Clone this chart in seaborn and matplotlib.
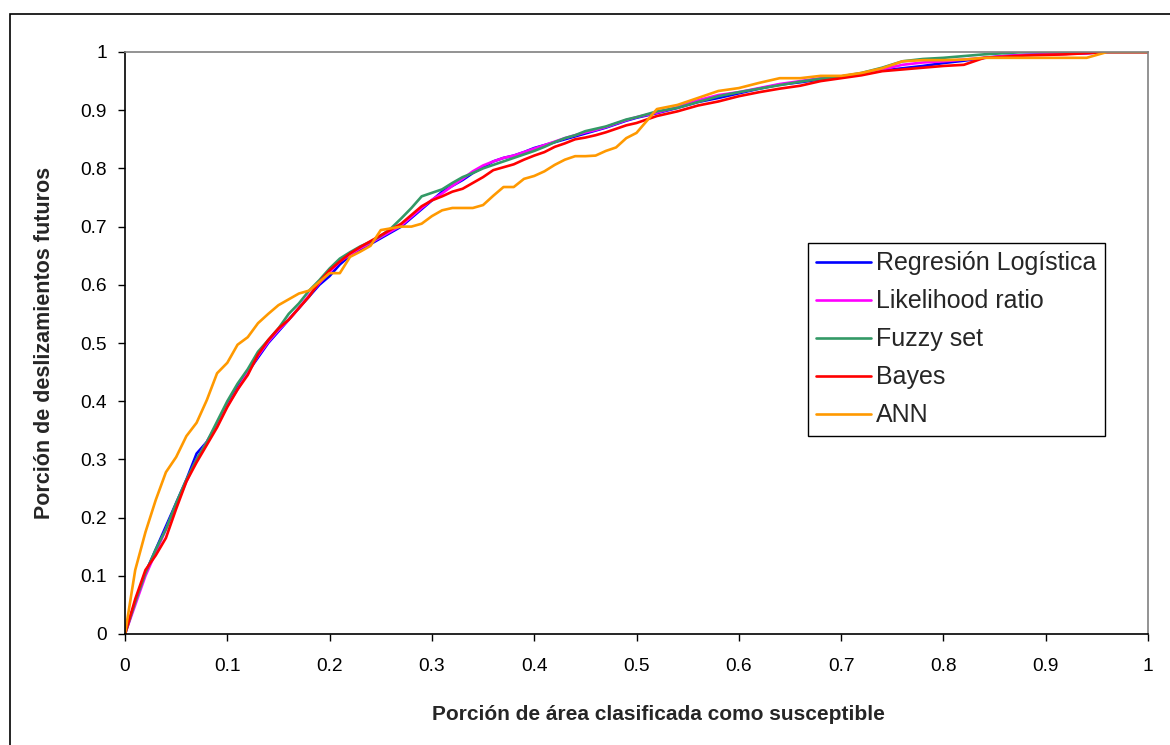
import numpy as np
import pandas as pd
import matplotlib
matplotlib.use("Agg")
import matplotlib.pyplot as plt
import seaborn as sns
from matplotlib.patches import Rectangle
from matplotlib.lines import Line2D

# ---- data ----
x_vals = [0.00, 0.01, 0.02, 0.03, 0.04, 0.05, 0.06, 0.07, 0.08, 0.09,
          0.10, 0.11, 0.12, 0.13, 0.14, 0.15, 0.16, 0.17, 0.18, 0.19,
          0.20, 0.21, 0.22, 0.23, 0.24, 0.25, 0.26, 0.27, 0.28, 0.29,
          0.30, 0.31, 0.32, 0.33, 0.34, 0.35, 0.36, 0.37, 0.38, 0.39,
          0.40, 0.41, 0.42, 0.43, 0.44, 0.45, 0.46, 0.47, 0.48, 0.49,
          0.50, 0.52, 0.54, 0.56, 0.58, 0.60, 0.62, 0.64, 0.66, 0.68,
          0.70, 0.72, 0.74, 0.76, 0.78, 0.80, 0.82, 0.84, 0.86, 0.88,
          0.90, 0.92, 0.94, 0.96, 0.98, 1.00]

regresion_logistica = [0.000, 0.055, 0.105, 0.145, 0.185, 0.225, 0.265, 0.310, 0.330, 0.360,
                       0.395, 0.425, 0.450, 0.475, 0.500, 0.520, 0.540, 0.560, 0.580, 0.600,
                       0.615, 0.635, 0.650, 0.660, 0.670, 0.680, 0.690, 0.700, 0.715, 0.730,
                       0.745, 0.760, 0.770, 0.780, 0.792, 0.802, 0.812, 0.818, 0.822, 0.828,
                       0.835, 0.840, 0.845, 0.850, 0.855, 0.860, 0.865, 0.870, 0.876, 0.882,
                       0.887, 0.895, 0.904, 0.914, 0.921, 0.929, 0.937, 0.944, 0.948, 0.953,
                       0.957, 0.962, 0.968, 0.972, 0.976, 0.981, 0.985, 0.990, 0.993, 0.995,
                       0.996, 0.997, 0.998, 1.000, 1.000, 1.000]

likelihood_ratio = [0.000, 0.050, 0.100, 0.140, 0.180, 0.222, 0.262, 0.300, 0.330, 0.360,
                    0.392, 0.420, 0.450, 0.478, 0.502, 0.522, 0.540, 0.560, 0.582, 0.603,
                    0.622, 0.640, 0.652, 0.663, 0.672, 0.682, 0.692, 0.702, 0.717, 0.732,
                    0.746, 0.757, 0.770, 0.782, 0.795, 0.805, 0.812, 0.818, 0.822, 0.828,
                    0.834, 0.840, 0.846, 0.852, 0.857, 0.862, 0.866, 0.871, 0.877, 0.883,
                    0.888, 0.896, 0.905, 0.917, 0.926, 0.931, 0.938, 0.945, 0.950, 0.955,
                    0.958, 0.963, 0.970, 0.978, 0.982, 0.984, 0.987, 0.990, 0.993, 0.995,
                    0.996, 0.997, 0.998, 1.000, 1.000, 1.000]

fuzzy_set = [0.000, 0.055, 0.105, 0.145, 0.180, 0.225, 0.265, 0.300, 0.330, 0.365,
             0.400, 0.430, 0.455, 0.485, 0.505, 0.525, 0.550, 0.568, 0.590, 0.608,
             0.628, 0.645, 0.656, 0.666, 0.674, 0.684, 0.697, 0.714, 0.732, 0.752,
             0.758, 0.764, 0.775, 0.785, 0.792, 0.800, 0.806, 0.812, 0.818, 0.824,
             0.830, 0.837, 0.845, 0.852, 0.857, 0.864, 0.868, 0.872, 0.878, 0.884,
             0.888, 0.898, 0.904, 0.914, 0.924, 0.931, 0.937, 0.943, 0.949, 0.954,
             0.958, 0.964, 0.973, 0.984, 0.988, 0.990, 0.993, 0.996, 0.998, 1.000,
             1.000, 1.000, 1.000, 1.000, 1.000, 1.000]

bayes = [0.000, 0.060, 0.110, 0.135, 0.165, 0.215, 0.262, 0.295, 0.325, 0.355,
         0.390, 0.420, 0.445, 0.480, 0.505, 0.525, 0.540, 0.560, 0.580, 0.605,
         0.625, 0.640, 0.654, 0.665, 0.675, 0.685, 0.695, 0.705, 0.720, 0.735,
         0.745, 0.752, 0.760, 0.765, 0.775, 0.785, 0.797, 0.802, 0.807, 0.815,
         0.822, 0.828, 0.837, 0.843, 0.850, 0.853, 0.857, 0.862, 0.868, 0.874,
         0.878, 0.890, 0.898, 0.908, 0.915, 0.924, 0.931, 0.937, 0.942, 0.950,
         0.955, 0.960, 0.967, 0.970, 0.973, 0.976, 0.978, 0.990, 0.992, 0.994,
         0.995, 0.996, 0.998, 1.000, 1.000, 1.000]

ann = [0.000, 0.110, 0.175, 0.230, 0.278, 0.304, 0.340, 0.363, 0.402, 0.448,
       0.466, 0.497, 0.510, 0.534, 0.550, 0.565, 0.575, 0.585, 0.590, 0.605,
       0.620, 0.620, 0.648, 0.657, 0.667, 0.694, 0.697, 0.700, 0.700, 0.705,
       0.718, 0.728, 0.732, 0.732, 0.732, 0.737, 0.753, 0.768, 0.768, 0.782,
       0.787, 0.795, 0.806, 0.815, 0.821, 0.821, 0.822, 0.830, 0.836, 0.852,
       0.861, 0.902, 0.909, 0.921, 0.933, 0.938, 0.947, 0.955, 0.955, 0.959,
       0.959, 0.964, 0.972, 0.984, 0.986, 0.986, 0.987, 0.990, 0.990, 0.990,
       0.990, 0.990, 0.990, 1.000, 1.000, 1.000]

series_names = ["Regresión Logística", "Likelihood ratio", "Fuzzy set", "Bayes", "ANN"]
series_values = [regresion_logistica, likelihood_ratio, fuzzy_set, bayes, ann]
series_colors = ["#0000FF", "#FF00FF", "#339966", "#FF0000", "#FF9900"]

x_ticks = [0, 0.1, 0.2, 0.3, 0.4, 0.5, 0.6, 0.7, 0.8, 0.9, 1]
x_tick_labels = ["0", "0.1", "0.2", "0.3", "0.4", "0.5", "0.6", "0.7", "0.8", "0.9", "1"]
y_ticks = x_ticks
y_tick_labels = x_tick_labels

x_label = "Porción de área clasificada como susceptible"
y_label = "Porción de deslizamientos futuros"

# ---- build long dataframe ----
frames = []
for name, vals in zip(series_names, series_values):
    frames.append(pd.DataFrame({"x": x_vals, "y": vals, "serie": name}))
df = pd.concat(frames, ignore_index=True)

sns.set_theme(style="white")
plt.rcParams["font.family"] = ["Liberation Sans", "DejaVu Sans"]

fig = plt.figure(figsize=(11.7, 7.45), dpi=100)
ax = fig.add_axes([125 / 1170, 1 - 634 / 745, (1148 - 125) / 1170, (634 - 52) / 745])

sns.lineplot(data=df, x="x", y="y", hue="serie", hue_order=series_names,
             palette=dict(zip(series_names, series_colors)), estimator=None,
             sort=False, linewidth=1.9, ax=ax, legend=False)

ax.set_xlim(0, 1)
ax.set_ylim(0, 1)
ax.set_xticks(x_ticks)
ax.set_xticklabels(x_tick_labels)
ax.set_yticks(y_ticks)
ax.set_yticklabels(y_tick_labels)
ax.tick_params(axis="both", direction="out", length=5, width=1, color="black",
               labelsize=13.8, labelcolor="black")
ax.tick_params(axis="x", pad=12)
ax.tick_params(axis="y", pad=8)
ax.xaxis.set_ticks_position("bottom")
ax.yaxis.set_ticks_position("left")

for side in ["left", "bottom"]:
    ax.spines[side].set_color("black")
    ax.spines[side].set_linewidth(1.2)
for side in ["top", "right"]:
    ax.spines[side].set_color("#808080")
    ax.spines[side].set_linewidth(1.2)

ax.set_xlabel(x_label, fontsize=15, fontweight="bold", labelpad=22)
ax.xaxis.label.set_x((658 - 125) / 1023)
ax.set_ylabel(y_label, fontsize=15.5, fontweight="bold", labelpad=18)
ax.grid(False)

handles = [Line2D([0], [0], color=c, lw=1.9) for c in series_colors]
leg = fig.legend(handles, series_names, loc="upper left",
                 bbox_to_anchor=(808 / 1170, 1 - 243 / 745),
                 fontsize=18, frameon=True, fancybox=False, framealpha=1,
                 edgecolor="black", handlelength=2.2, handletextpad=0.2,
                 labelspacing=0.56, borderpad=0.33, borderaxespad=0)
leg.get_frame().set_linewidth(1.0)

# outer chart border
fig.patches.append(Rectangle((10 / 1170, -0.05), 1.2, 1 - 14 / 745 + 0.05,
                             transform=fig.transFigure, fill=False,
                             edgecolor="black", linewidth=1.2))

fig.savefig("out.png", dpi=100)
